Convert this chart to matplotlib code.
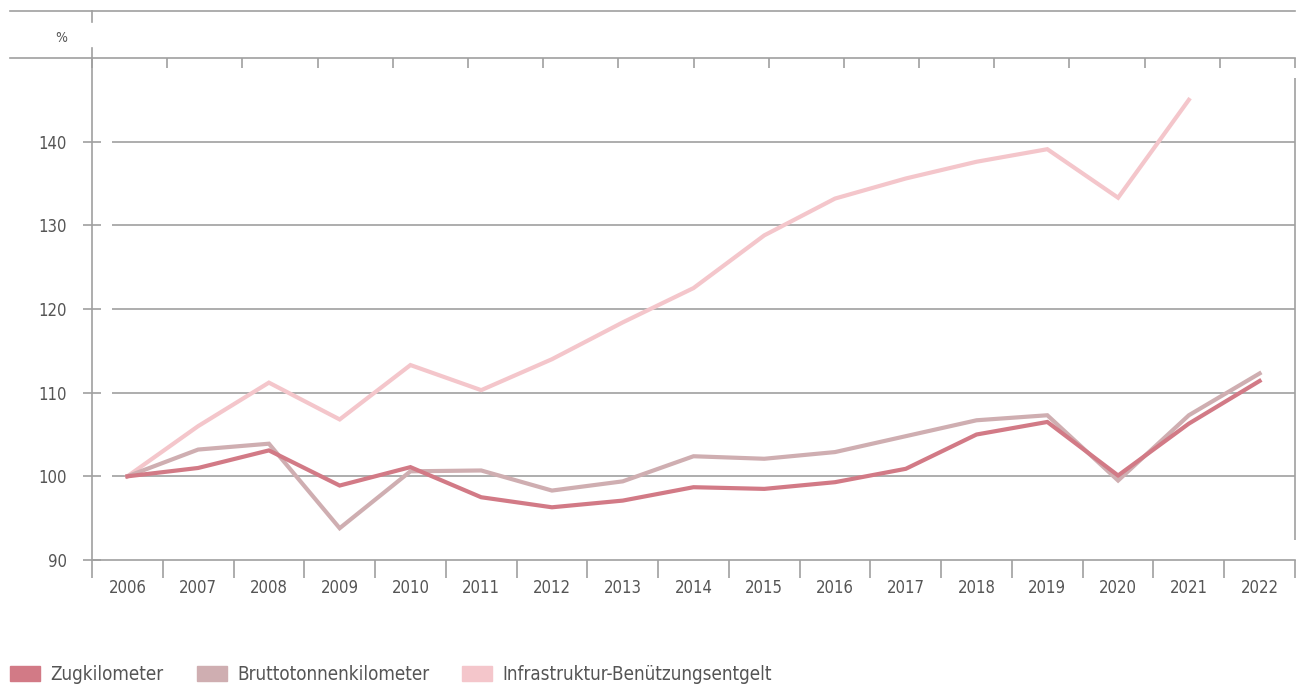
import numpy as np
import matplotlib
matplotlib.use("Agg")
import matplotlib.pyplot as plt
from matplotlib.lines import Line2D
from matplotlib.patches import Rectangle

plt.rcParams['font.family'] = ['DejaVu Sans']
plt.rcParams['font.stretch'] = 'condensed'

years = list(range(2006, 2023))
zugkilometer = [100.0, 101.0, 103.1, 98.9, 101.1, 97.5, 96.3, 97.1, 98.7, 98.5, 99.3, 100.9,
                105.0, 106.5, 100.1, 106.3, 111.4]
bruttotonnenkm = [100.0, 103.2, 103.9, 93.8, 100.6, 100.7, 98.3, 99.4, 102.4, 102.1, 102.9, 104.8,
                  106.7, 107.3, 99.5, 107.3, 112.3]
infra_years = list(range(2006, 2022))
infrastruktur = [100.0, 106.0, 111.2, 106.8, 113.3, 110.3, 114.0, 118.4, 122.5, 128.8, 133.2, 135.6,
                 137.6, 139.1, 133.3, 145.0]

labels = ["Zugkilometer", "Bruttotonnenkilometer", "Infrastruktur-Benützungsentgelt"]
colors = ["#d27a86", "#cfaeb1", "#f4c6cb"]
yticks = [90, 100, 110, 120, 130, 140]

grey = "#a0a0a0"
txt = "#555555"
W, H = 1301, 687

fig = plt.figure(figsize=(W / 100, H / 100), dpi=100)
ax = fig.add_axes([92 / W, 1 - 560 / H, (1295 - 92) / W, (560 - 58) / H])
ax.set_xlim(2005.5, 2022.5)
ax.set_ylim(90, 150)

ax.spines["right"].set_visible(False)
for s in ["left", "top", "bottom"]:
    ax.spines[s].set_color(grey)
    ax.spines[s].set_linewidth(1.2)

# gridlines (start a little right of the spine)
gx0 = 2005.5 + 20 / 70.75
ax.hlines(yticks[1:], gx0, 2022.5, color=grey, lw=1.2, zorder=1)
ax.vlines(2022.5, 0.04, 0.96, transform=ax.get_xaxis_transform(), color=grey, lw=1.2, clip_on=False)

ax.set_yticks(yticks)
ax.set_yticklabels([str(v) for v in yticks])
ax.tick_params(axis='y', direction='inout', length=12.5, width=1.2, color=grey,
               labelsize=12, labelcolor=txt, pad=12)

bounds = np.arange(2005.5, 2023.0, 1.0)
ax.set_xticks(years)
ax.set_xticklabels([str(y) for y in years])
ax.set_xticks(bounds, minor=True)
ax.tick_params(axis='x', which='major', length=0, labelsize=12, labelcolor=txt, pad=14)
ax.tick_params(axis='x', which='minor', direction='out', length=13, width=1.2, color=grey)

sec = ax.secondary_xaxis('top')
sec.set_xticks(np.linspace(2005.5, 2022.5, 17))
sec.set_xticklabels([])
sec.tick_params(direction='in', length=7.5, width=1.2, color=grey)
sec.spines['top'].set_visible(False)

ax.plot(infra_years, infrastruktur, color=colors[2], lw=3, zorder=3, solid_joinstyle='miter')
ax.plot(years, bruttotonnenkm, color=colors[1], lw=3, zorder=4, solid_joinstyle='miter')
ax.plot(years, zugkilometer, color=colors[0], lw=3, zorder=5, solid_joinstyle='miter')

# frame decorations outside the axes
def fline(x0, y0, x1, y1):
    fig.add_artist(Line2D([x0 / W, x1 / W], [1 - y0 / H, 1 - y1 / H], color=grey, lw=1.2))

fline(10, 11, 1295, 11)
fline(92, 11, 92, 22)
fline(10, 58, 92, 58)
fline(92, 48, 92, 58)
fig.text(61 / W, 1 - 38 / H, "%", fontsize=10, color=txt, ha='center', va='center')

# legend
lx = [10, 197, 462]
for x, c, lab in zip(lx, colors, labels):
    fig.add_artist(Rectangle((x / W, 1 - 681 / H), 30 / W, 15 / H, color=c,
                             transform=fig.transFigure))
    fig.text((x + 40) / W, 1 - 674 / H, lab, fontsize=13.5, color=txt, va='center', ha='left')

fig.savefig("out.png", dpi=100, facecolor="white")
